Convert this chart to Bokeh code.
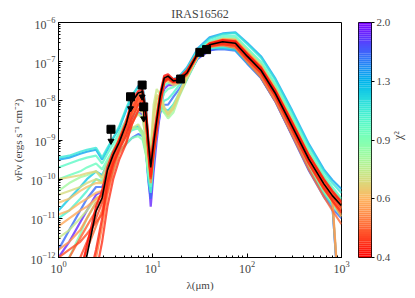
import numpy as np
from bokeh.plotting import figure
from bokeh.layouts import row
from bokeh.models import FixedTicker
from bokeh.embed import file_html
from bokeh.resources import INLINE

# ---------------- data (log10 of nuF_nu, erg s^-1 cm^-2) ----------------
wavelength = [1.0, 1.3, 1.7, 2.0, 2.5, 2.9, 3.3, 3.8, 4.4, 5.2, 6.0, 7.0, 7.8, 8.5,
              9.0, 9.5, 10.2, 11.0, 12.0, 13.2, 14.5, 16.5, 19, 23, 30, 40, 55, 75,
              100, 140, 200, 300, 450, 650, 800, 1000]

best_fit = [-15.0, -13.8, -12.6, -11.95, -10.82, -10.48, -9.77, -9.38, -9.06, -8.60, -8.03,
            -7.80, -7.76, -8.40, -9.11, -9.70, -9.08, -8.50, -7.87, -7.42, -7.37, -7.49,
            -7.47, -7.29, -6.79, -6.57, -6.49, -6.53, -6.86, -7.22, -7.82, -8.65, -9.49,
            -10.12, -10.42, -10.68]

model_chi2 = [0.41, 0.43, 0.46, 0.49, 0.52, 0.55, 0.58, 0.62, 0.66, 0.72, 0.80, 0.90,
              1.00, 1.12, 1.25, 1.40, 1.60, 1.85, 0.44, 0.47, 0.60, 0.68, 0.95, 1.05, 0.50]

model_a = [-14.5, -13.5, -12.4, -11.7, -10.7, -10.3, -9.7, -9.3, -9.0, -8.55, -8.0, -7.75, -7.72, -8.3, -9.0, -9.55, -8.95, -8.4, -7.8, -7.36, -7.32, -7.45, -7.42, -7.22, -6.76, -6.53, -6.45, -6.48, -6.8, -7.15, -7.74, -8.55, -9.38, -10.0, -10.3, -10.58]
model_b = [-15.0, -14.5, -13.5, -12.8, -11.8, -11.0, -10.1, -9.6, -9.25, -8.9, -8.45, -8.1, -7.95, -8.5, -9.3, -9.95, -9.3, -8.7, -8.0, -7.5, -7.42, -7.52, -7.5, -7.32, -6.82, -6.6, -6.55, -6.6, -6.93, -7.3, -7.9, -8.75, -9.6, -10.25, -10.55, -10.85]
model_c = [-13.0, -12.6, -12.0, -11.6, -11.0, -10.6, -10.0, -9.5, -9.1, -8.7, -8.2, -7.9, -7.85, -8.45, -9.2, -9.8, -9.15, -8.55, -7.9, -7.44, -7.38, -7.5, -7.46, -7.27, -6.78, -6.55, -6.5, -6.52, -6.83, -7.2, -7.8, -8.62, -9.45, -10.1, -10.38, -10.65]
model_d = [-12.4, -12.0, -11.5, -11.2, -10.8, -10.5, -9.9, -9.4, -9.0, -8.6, -8.15, -7.85, -7.8, -8.35, -9.1, -9.65, -9.0, -8.45, -7.85, -7.40, -7.36, -7.46, -7.43, -7.26, -6.8, -6.6, -6.53, -6.56, -6.88, -7.26, -7.88, -8.72, -9.58, -10.2, -10.5, -10.8]
model_e = [-15.5, -14.8, -13.8, -13.0, -12.0, -11.2, -10.4, -9.8, -9.35, -9.05, -8.6, -8.25, -8.1, -8.6, -9.4, -10.1, -9.4, -8.8, -8.1, -7.55, -7.45, -7.55, -7.52, -7.33, -6.8, -6.55, -6.44, -6.46, -6.78, -7.14, -7.75, -8.6, -9.5, -10.2, -10.55, -10.95]
model_f = [-11.8, -11.6, -11.3, -11.0, -10.6, -10.4, -9.9, -9.45, -8.95, -8.5, -8.05, -7.8, -7.8, -8.4, -9.15, -9.75, -9.1, -8.5, -7.9, -7.45, -7.40, -7.5, -7.48, -7.3, -6.83, -6.62, -6.55, -6.62, -6.97, -7.35, -7.97, -8.8, -9.62, -10.25, -10.55, -14.0]
model_g = [-11.2, -11.0, -10.8, -10.7, -10.5, -10.4, -9.9, -9.5, -9.05, -8.7, -8.3, -8.0, -7.95, -8.5, -9.2, -9.85, -9.2, -8.6, -7.95, -7.5, -7.45, -7.55, -7.5, -7.3, -6.78, -6.52, -6.42, -6.44, -6.75, -7.1, -7.7, -8.52, -9.38, -10.05, -10.4, -10.75]
model_h = [-10.6, -10.5, -10.3, -10.2, -10.1, -10.1, -9.8, -9.4, -9.0, -8.6, -8.3, -8.1, -8.1, -8.7, -9.3, -9.9, -9.0, -8.3, -7.8, -7.5, -7.5, -7.6, -7.55, -7.35, -6.85, -6.62, -6.55, -6.58, -6.9, -7.27, -7.88, -8.7, -9.55, -10.22, -10.55, -10.9]
model_i = [-10.0, -9.95, -9.9, -9.85, -9.8, -9.95, -9.6, -9.3, -8.95, -8.6, -8.35, -8.2, -8.3, -8.9, -9.5, -9.4, -8.3, -7.85, -7.9, -8.2, -8.35, -8.2, -7.85, -7.4, -6.85, -6.58, -6.45, -6.47, -6.8, -7.18, -7.8, -8.65, -9.5, -10.15, -10.5, -14.0]
model_j = [-11.5, -11.3, -11.0, -10.8, -10.5, -10.4, -10.0, -9.6, -9.2, -8.9, -8.7, -8.6, -8.8, -9.3, -9.6, -9.2, -8.1, -7.7, -7.85, -8.15, -8.4, -8.2, -7.8, -7.35, -6.8, -6.55, -6.42, -6.42, -6.72, -7.08, -7.68, -8.5, -9.35, -10.0, -10.3, -10.6]
model_k = [-10.3, -10.1, -9.95, -9.9, -9.8, -10.0, -9.8, -9.5, -9.1, -8.85, -8.7, -8.7, -8.9, -9.4, -9.8, -9.5, -8.4, -7.9, -8.0, -8.3, -8.45, -8.3, -7.9, -7.45, -6.88, -6.62, -6.58, -6.62, -6.95, -7.32, -7.93, -8.78, -9.65, -10.3, -10.6, -10.95]
model_l = [-12.5, -12.0, -11.4, -11.0, -10.6, -10.6, -10.2, -9.8, -9.3, -9.1, -8.95, -8.9, -9.0, -9.4, -9.9, -10.1, -9.2, -8.5, -8.2, -8.3, -8.35, -8.1, -7.8, -7.4, -6.85, -6.6, -6.52, -6.52, -6.82, -7.18, -7.78, -8.6, -9.45, -10.1, -10.4, -10.7]
model_m = [-9.7, -9.6, -9.5, -9.45, -9.4, -9.6, -9.35, -9.1, -8.8, -8.5, -8.25, -8.1, -8.2, -8.8, -9.6, -10.0, -9.2, -8.5, -7.95, -7.6, -7.55, -7.55, -7.45, -7.22, -6.72, -6.48, -6.35, -6.35, -6.65, -7.0, -7.58, -8.4, -9.25, -9.9, -10.2, -10.5]
model_n = [-9.45, -9.4, -9.3, -9.25, -9.2, -9.45, -9.2, -8.95, -8.65, -8.2, -7.85, -7.65, -7.7, -8.3, -9.2, -9.9, -9.3, -8.7, -8.0, -7.5, -7.4, -7.45, -7.4, -7.18, -6.7, -6.42, -6.3, -6.27, -6.55, -6.9, -7.48, -8.3, -9.15, -9.8, -10.1, -10.35]
model_o = [-10.8, -10.5, -10.2, -10.0, -9.8, -9.9, -9.6, -9.3, -9.05, -8.85, -8.7, -8.65, -8.8, -9.3, -10.0, -10.3, -9.4, -8.6, -8.2, -8.2, -8.25, -8.1, -7.85, -7.45, -6.9, -6.66, -6.65, -6.7, -7.03, -7.4, -8.0, -8.85, -9.7, -10.35, -10.65, -14.0]
model_p = [-9.5, -9.45, -9.35, -9.3, -9.25, -9.5, -9.25, -8.95, -8.7, -8.25, -7.9, -7.62, -7.65, -8.2, -9.3, -10.0, -9.4, -8.7, -8.0, -7.5, -7.38, -7.45, -7.38, -7.15, -6.66, -6.38, -6.28, -6.25, -6.52, -6.86, -7.44, -8.25, -9.1, -9.75, -10.02, -10.25]
model_q = [-11.8, -11.3, -10.8, -10.5, -10.2, -10.2, -9.9, -9.55, -9.3, -9.1, -8.95, -8.85, -8.9, -9.35, -10.1, -10.5, -9.6, -8.8, -8.3, -8.1, -8.1, -7.9, -7.7, -7.4, -6.9, -6.7, -6.68, -6.72, -7.05, -7.42, -8.03, -8.9, -9.78, -10.45, -10.75, -11.0]
model_r = [-12.0, -11.6, -11.1, -10.8, -10.4, -10.3, -10.0, -9.6, -9.2, -8.85, -8.5, -8.3, -8.35, -8.9, -9.9, -10.7, -9.8, -9.0, -8.25, -7.7, -7.6, -7.6, -7.55, -7.38, -6.92, -6.72, -6.62, -6.68, -7.02, -7.4, -8.02, -8.88, -9.75, -10.4, -10.65, -14.0]
model_s = [-16.0, -15.5, -14.5, -13.6, -12.4, -11.6, -10.7, -10.0, -9.5, -9.1, -8.6, -8.25, -8.05, -8.55, -9.35, -10.0, -9.35, -8.75, -8.05, -7.52, -7.44, -7.52, -7.49, -7.3, -6.8, -6.58, -6.5, -6.55, -6.88, -7.25, -7.85, -8.68, -9.52, -10.15, -10.45, -10.72]
model_t = [-12.0, -11.8, -11.6, -11.4, -11.1, -10.9, -10.3, -9.7, -9.2, -8.8, -8.3, -7.95, -7.9, -8.45, -9.25, -9.9, -9.2, -8.6, -7.95, -7.47, -7.4, -7.5, -7.47, -7.28, -6.79, -6.56, -6.47, -6.5, -6.82, -7.18, -7.78, -8.6, -9.43, -10.05, -10.35, -10.62]
model_u = [-10.9, -10.8, -10.6, -10.5, -10.35, -10.3, -9.85, -9.45, -9.05, -8.65, -8.25, -8.0, -8.0, -8.6, -9.3, -9.9, -9.1, -8.45, -7.85, -7.45, -7.42, -7.52, -7.48, -7.3, -6.8, -6.57, -6.5, -6.52, -6.85, -7.22, -7.83, -8.66, -9.5, -10.15, -10.45, -10.75]
model_v = [-10.4, -10.3, -10.2, -10.1, -10.0, -10.1, -9.75, -9.4, -9.05, -8.75, -8.5, -8.35, -8.45, -9.0, -9.5, -9.5, -8.5, -7.95, -7.95, -8.2, -8.3, -8.15, -7.85, -7.4, -6.85, -6.6, -6.5, -6.52, -6.84, -7.2, -7.8, -8.62, -9.46, -10.1, -10.4, -10.7]
model_w = [-10.0, -9.9, -9.8, -9.7, -9.6, -9.75, -9.5, -9.25, -8.9, -8.6, -8.4, -8.3, -8.45, -9.0, -9.8, -10.2, -9.3, -8.6, -8.1, -7.8, -7.7, -7.65, -7.55, -7.3, -6.78, -6.52, -6.4, -6.4, -6.7, -7.05, -7.63, -8.45, -9.3, -9.95, -10.25, -10.55]
model_x = [-11.0, -10.8, -10.5, -10.3, -10.0, -10.05, -9.75, -9.45, -9.15, -8.9, -8.75, -8.7, -8.85, -9.3, -10.0, -10.35, -9.5, -8.7, -8.2, -8.0, -7.95, -7.8, -7.6, -7.35, -6.88, -6.66, -6.62, -6.66, -6.99, -7.36, -7.97, -8.82, -9.68, -10.35, -10.65, -10.95]
model_y = [-13.5, -13.0, -12.3, -11.8, -11.2, -10.8, -10.2, -9.6, -9.15, -8.75, -8.3, -8.0, -7.9, -8.45, -9.2, -9.8, -9.2, -8.6, -7.95, -7.47, -7.4, -7.5, -7.48, -7.3, -6.82, -6.62, -6.58, -6.65, -7.0, -7.4, -8.02, -8.88, -9.75, -10.45, -10.8, -11.15]

obs_wave = [3.6, 5.8, 7.7, 8.0, 19.7, 31.5, 37.1]
obs_flux = [1.88e-9, 1.27e-8, 2.53e-8, 7.0e-9, 3.6e-8, 1.73e-7, 2.03e-7]
obs_upper = [True, True, True, True, False, False, False]

cbar_ticks = [0.4, 0.598, 0.894, 1.337, 2.0]
cbar_labels = ["0.4", "0.6", "0.9", "1.3", "2.0"]
chi2_min, chi2_max = 0.4, 2.0

models = [model_a, model_b, model_c, model_d, model_e, model_f, model_g, model_h, model_i,
          model_j, model_k, model_l, model_m, model_n, model_o, model_p, model_q, model_r,
          model_s, model_t, model_u, model_v, model_w, model_x, model_y]


def rainbow_r(c):
    t = (np.log10(c) - np.log10(chi2_min)) / (np.log10(chi2_max) - np.log10(chi2_min))
    x = 1.0 - min(max(t, 0.0), 1.0)
    r = min(1.0, abs(2 * x - 0.5))
    g = np.sin(np.pi * x)
    b = np.cos(np.pi * x / 2)
    return "#%02x%02x%02x" % (int(round(r * 255)), int(round(max(g, 0) * 255)), int(round(max(b, 0) * 255)))


SERIF = "Liberation Serif"
TOP, BOTTOM = 22, 41

# ---------------- main figure ----------------
p = figure(width=350, height=298, x_axis_type="log", y_axis_type="log",
           x_range=(1, 1000), y_range=(1e-12, 1e-6), output_backend="svg",
           toolbar_location=None, min_border_left=58, min_border_right=9,
           min_border_top=TOP, min_border_bottom=BOTTOM, title="IRAS16562")
p.title.align = "center"
p.title.text_font = SERIF
p.title.text_font_size = "12px"
p.title.text_font_style = "normal"
p.title.standoff = 3
p.title.offset = 0
p.xgrid.visible = False
p.ygrid.visible = False
p.outline_line_color = "black"
p.outline_line_width = 1

order = sorted(range(len(models)), key=lambda i: -model_chi2[i])
xs, ys, cols = [], [], []
for i in order:
    xs.append(wavelength)
    ys.append([10 ** v for v in models[i]])
    cols.append(rainbow_r(model_chi2[i]))
p.multi_line(xs=xs, ys=ys, line_color=cols, line_width=2.2, line_alpha=0.8)

p.line(wavelength, [10 ** v for v in best_fit], line_color="black", line_width=1.6)

# upper limit arrows
ul_x = [w for w, u in zip(obs_wave, obs_upper) if u]
ul_y0 = [f for f, u in zip(obs_flux, obs_upper) if u]
ul_y1 = [f * 10 ** (-0.30) for f in ul_y0]
p.segment(x0=ul_x, y0=ul_y0, x1=ul_x, y1=ul_y1, line_color="black", line_width=1.2)
p.scatter(ul_x, ul_y1, marker="inverted_triangle", size=6, color="black")
p.scatter(obs_wave, obs_flux, marker="square", size=8, color="black")

for ax in (p.xaxis[0], p.yaxis[0]):
    ax.major_tick_in = 4
    ax.major_tick_out = 0
    ax.minor_tick_in = 2
    ax.minor_tick_out = 0
    ax.major_label_text_font = SERIF
    ax.major_label_text_font_size = "12px"
    ax.axis_label_text_font = SERIF
    ax.axis_label_text_font_size = "11px"
    ax.axis_label_text_font_style = "normal"
    ax.axis_line_color = "black"
    ax.major_label_standoff = 3
    ax.axis_label_standoff = 3

p.xaxis.axis_label = "λ(μm)"
p.yaxis.axis_label = "νFν (ergs s⁻¹ cm⁻²)"

# ---------------- colour bar ----------------
cb = figure(width=65, height=298, x_range=(0, 1), y_range=(chi2_min, chi2_max),
            y_axis_type="log", y_axis_location="right", output_backend="svg",
            toolbar_location=None, min_border_left=8, min_border_right=44,
            min_border_top=TOP, min_border_bottom=BOTTOM)
cb.xaxis.visible = False
cb.xgrid.visible = False
cb.ygrid.visible = False
cb.outline_line_color = "black"
nstep = 120
edges = np.logspace(np.log10(chi2_min), np.log10(chi2_max), nstep + 1)
mids = np.sqrt(edges[:-1] * edges[1:])
cb.quad(left=0, right=1, bottom=edges[:-1], top=edges[1:],
        fill_color=[rainbow_r(m) for m in mids], line_color=None)
cay = cb.yaxis[0]
cay.ticker = FixedTicker(ticks=cbar_ticks, minor_ticks=[])
cay.major_label_overrides = {t: l for t, l in zip(cbar_ticks, cbar_labels)}
cay.major_tick_out = 3
cay.major_tick_in = 0
cay.axis_line_color = None
cay.major_label_text_font = SERIF
cay.major_label_text_font_size = "11px"
cay.major_label_standoff = 2
cay.axis_label = "χ²"
cay.axis_label_text_font = SERIF
cay.axis_label_text_font_size = "12px"
cay.axis_label_text_font_style = "normal"
cay.axis_label_standoff = 5
if hasattr(cay, "axis_label_orientation"):
    cay.axis_label_orientation = np.pi / 2

layout = row(p, cb)
open("out.html", "w").write(file_html(layout, INLINE))
